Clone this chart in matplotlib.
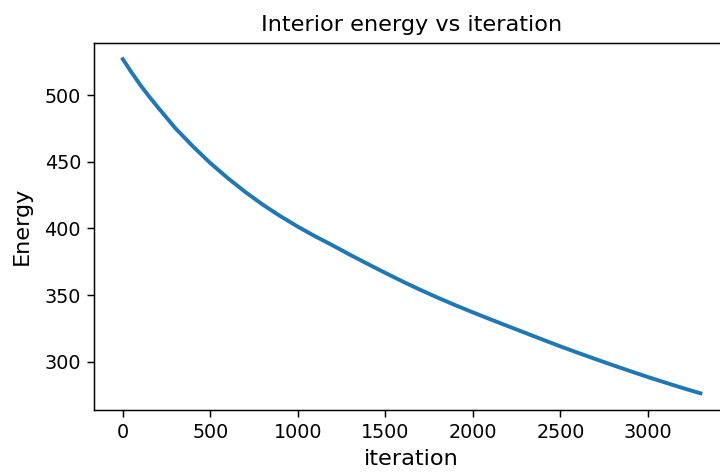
import numpy as np
import matplotlib
matplotlib.use("Agg")
import matplotlib.pyplot as plt

#--data---
iteration = np.array([0, 50, 100, 150, 200, 300, 400, 500, 600, 700, 800,
                      900, 1000, 1100, 1200, 1300, 1400, 1500, 1600, 1700,
                      1800, 1900, 2000, 2100, 2200, 2300, 2400, 2500, 2600,
                      2700, 2800, 2900, 3000, 3100, 3200, 3300])
energy = np.array([527.0, 517.0, 507.6, 499.0, 490.9, 475.2, 461.6, 449.0,
                   437.7, 427.3, 417.8, 409.2, 401.3, 394.0, 387.2, 380.1,
                   373.3, 366.6, 360.1, 353.9, 348.0, 342.4, 337.0, 331.8,
                   326.7, 321.6, 316.5, 311.5, 306.7, 302.0, 297.4, 292.9,
                   288.5, 284.3, 280.2, 276.3])

DPI = 134
fig = plt.figure(figsize=(720 / DPI, 473 / DPI), dpi=DPI)
# axes run past the right edge, as in the cropped original
ax = fig.add_axes([94 / 720, 63 / 473, 635.3 / 720, 367.5 / 473])

ax.plot(iteration, energy, color='#1f77b4', linewidth=2.1)

ax.set_xlabel('iteration', fontsize=12)
ax.set_ylabel('Energy', fontsize=12, labelpad=7)
ax.set_title('Interior energy vs iteration')
ax.tick_params(labelsize=10.3)

fig.savefig('out.png', dpi=DPI)
